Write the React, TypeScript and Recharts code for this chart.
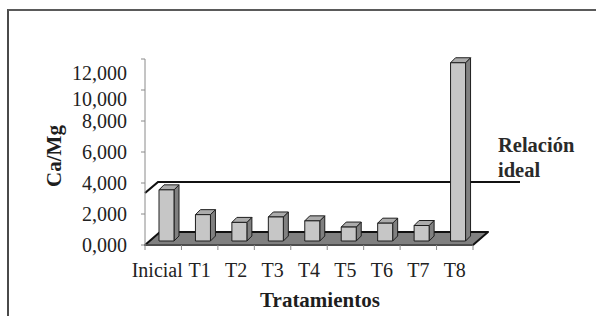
import React from 'react';
import { BarChart, Bar, XAxis, YAxis, ReferenceLine, ReferenceArea, Label } from 'recharts';

const categories = ['Inicial', 'T1', 'T2', 'T3', 'T4', 'T5', 'T6', 'T7', 'T8'];
const caMgValues = [3.3, 1.7, 1.2, 1.55, 1.3, 0.9, 1.15, 1.0, 11.5];
const yTicks = [0, 2, 4, 6, 8, 10, 12];
const idealRatio = 4;
const idealLabel = ['Relación', 'ideal'];
const xTitle = 'Tratamientos';
const yTitle = 'Ca/Mg';

const data = categories.map((name, i) => ({ name, value: caMgValues[i] }));

const FONT = '"Liberation Serif", "Times New Roman", serif';
const fmt = (v: number) => v.toFixed(3).replace('.', ',');

const DEPTH = 5;
const LIFT = 4;
const SHIFT = 3;

function Bar3D(props: any) {
  const { x, y, width, height } = props;
  if (height == null || isNaN(height)) return null;
  const fx = x + SHIFT;
  const fy = y - LIFT;
  const w = width;
  const h = height;
  const d = DEPTH;
  return (
    <g stroke="#1e1e1e" strokeWidth={1} strokeLinejoin="round">
      <path d={`M${fx + w},${fy} L${fx + w + d},${fy - d} L${fx + w + d},${fy + h - d} L${fx + w},${fy + h} Z`} fill="#808080" />
      <path d={`M${fx},${fy} L${fx + d},${fy - d} L${fx + w + d},${fy - d} L${fx + w},${fy} Z`} fill="#ababab" />
      <rect x={fx} y={fy} width={w} height={h} fill="#c6c6c6" />
    </g>
  );
}

function Floor(props: any) {
  const { x, y, width, height } = props;
  const b = y + height;
  const dx = 15;
  const dy = 13;
  return (
    <path
      d={`M${x},${b} L${x + width},${b} L${x + width + dx},${b - dy} L${x + dx},${b - dy} Z`}
      fill="#808080"
      stroke="#111"
      strokeWidth={2}
      strokeLinejoin="round"
    />
  );
}

function IdealLine(props: any) {
  const { x1, y1, x2 } = props;
  const y = y1 - 1;
  return (
    <g>
      <path d={`M${x1},${y + 11} L${x1 + 13},${y} L${x2 + 47},${y}`} stroke="#111" strokeWidth={2.2} fill="none" />
      <text x={x2 + 25} y={y - 30} fontFamily={FONT} fontWeight="bold" fontSize={20.5} fill="#2a2a2a">{idealLabel[0]}</text>
      <text x={x2 + 25} y={y - 5} fontFamily={FONT} fontWeight="bold" fontSize={20.5} fill="#2a2a2a">{idealLabel[1]}</text>
    </g>
  );
}

function YTick(props: any) {
  const { x, y, payload } = props;
  const v = payload.value;
  const nudge = v >= 12 ? 14 : v >= 10 ? 9 : 0;
  return (
    <text x={x} y={y + nudge} dy="0.355em" textAnchor="end" fontFamily={FONT} style={{ fontFamily: FONT }} fontSize={20} fill="#222">
      {fmt(v)}
    </text>
  );
}

function XTick(props: any) {
  const { x, y, payload, index, width, visibleTicksCount } = props;
  const n = visibleTicksCount || categories.length;
  const band = width && n ? width / n : 36.44;
  const axisY = y - 18;
  const left = x - band / 2;
  const nudge = index === 0 ? -6 : 0;
  return (
    <g>
      <line x1={left} y1={axisY} x2={left} y2={axisY + 5} stroke="#8a8a8a" />
      {index === n - 1 && <line x1={left + band} y1={axisY} x2={left + band} y2={axisY + 5} stroke="#8a8a8a" />}
      <text x={x + nudge} y={y} dy="0.71em" textAnchor="middle" fontFamily={FONT} style={{ fontFamily: FONT }} fontSize={20} fill="#222">
        {payload.value}
      </text>
    </g>
  );
}

export default function App() {
  return (
    <div style={{ position: 'absolute', left: 0, top: 0, width: 596, height: 316, background: '#fff', overflow: 'hidden' }}>
      <div
        style={{
          position: 'absolute',
          left: 7,
          top: 9,
          width: 620,
          height: 330,
          borderLeft: '2px solid #4a4a4a',
          borderTop: '2px solid #5a5a5a',
        }}
      />
      <div style={{ position: 'absolute', left: 0, top: 0 }}>
        <BarChart
          width={596}
          height={316}
          data={data}
          margin={{ top: 59, right: 123, bottom: 31, left: 85 }}
          barSize={15}
        >
          <XAxis
            dataKey="name"
            interval={0}
            height={40}
            tickSize={5}
            tickMargin={13}
            tickLine={false}
            axisLine={{ stroke: '#8a8a8a' }}
            tick={<XTick />}
          >
            <Label
              content={(p: any) => {
                const vb = p.viewBox || { x: 145, y: 245, width: 328, height: 40 };
                return (
                  <text x={vb.x + vb.width / 2 + 11} y={307} textAnchor="middle" fontFamily={FONT} fontWeight="bold" fontSize={21} fill="#1e1e1e">
                    {xTitle}
                  </text>
                );
              }}
            />
          </XAxis>
          <YAxis
            type="number"
            domain={[0, 12]}
            ticks={yTicks}
            interval={0}
            width={60}
            tickSize={4}
            tickMargin={14}
            axisLine={{ stroke: '#8a8a8a' }}
            tickLine={{ stroke: '#8a8a8a' }}
            tick={<YTick />}
          >
            <Label
              content={(p: any) => {
                const vb = p.viewBox || { x: 85, y: 59, width: 60, height: 186 };
                const cx = vb.x - 31;
                const cy = vb.y + vb.height / 2 + 4;
                return (
                  <text x={cx} y={cy} transform={`rotate(-90 ${cx} ${cy})`} textAnchor="middle" dominantBaseline="central" fontFamily={FONT} fontWeight="bold" fontSize={21} fill="#1e1e1e">
                    {yTitle}
                  </text>
                );
              }}
            />
          </YAxis>
          <ReferenceArea y1={0} y2={0.5} shape={<Floor />} zIndex={-10} />
          <ReferenceLine y={idealRatio} shape={<IdealLine />} zIndex={-5} />
          <Bar dataKey="value" shape={<Bar3D />} isAnimationActive={false} />
        </BarChart>
      </div>
    </div>
  );
}
